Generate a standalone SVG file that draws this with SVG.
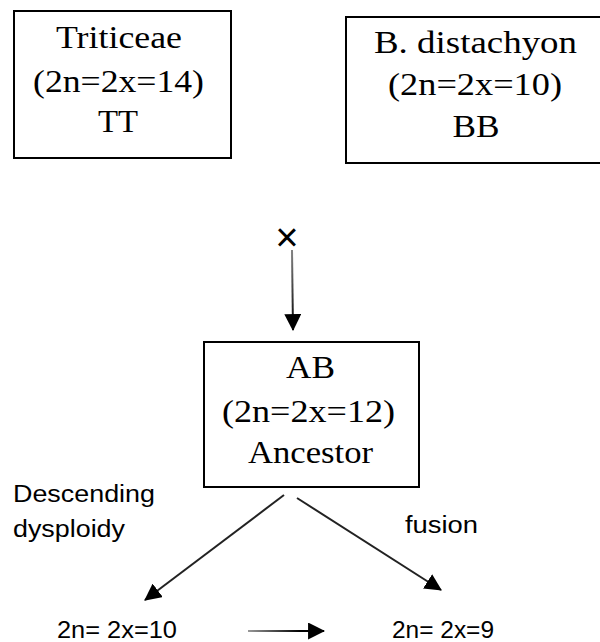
<svg xmlns="http://www.w3.org/2000/svg" width="600" height="642" viewBox="0 0 600 642">
<style>
.box{fill:#fff;stroke:#000;stroke-width:2}
.serif{font-family:"Liberation Serif","Times New Roman",serif;font-size:32px;fill:#000;text-anchor:middle}
.sans{font-family:"Liberation Sans",Arial,sans-serif;font-size:23px;fill:#000}
.conn{stroke:#222;stroke-width:2;fill:none;marker-end:url(#ah)}
</style>
<defs>
<marker id="ah" markerUnits="userSpaceOnUse" viewBox="0 0 16 16" refX="15" refY="8" markerWidth="17" markerHeight="17" orient="auto">
<path d="M0,0 L16,8 L0,16 z" fill="#000"/>
</marker>
<linearGradient id="hg" gradientUnits="userSpaceOnUse" x1="248" y1="0" x2="300" y2="0">
<stop offset="0" stop-color="#999"/>
<stop offset="1" stop-color="#000"/>
</linearGradient>
<linearGradient id="vg" gradientUnits="userSpaceOnUse" x1="0" y1="248" x2="0" y2="320">
<stop offset="0" stop-color="#888"/>
<stop offset="1" stop-color="#111"/>
</linearGradient>
</defs>
<rect width="600" height="642" fill="#fff"/>
<g id="triticeae">
<rect class="box" x="14" y="11" width="217" height="147"/>
<text class="serif" x="119" y="48" textLength="126" lengthAdjust="spacingAndGlyphs">Triticeae</text>
<text class="serif" x="118.5" y="92" textLength="171" lengthAdjust="spacingAndGlyphs">(2n=2x=14)</text>
<text class="serif" x="118" y="132" textLength="40" lengthAdjust="spacingAndGlyphs">TT</text>
</g>
<g id="bdistachyon">
<rect class="box" x="346" y="17" width="270" height="146"/>
<text class="serif" x="475.5" y="53" textLength="203" lengthAdjust="spacingAndGlyphs">B. distachyon</text>
<text class="serif" x="475" y="95" textLength="174" lengthAdjust="spacingAndGlyphs">(2n=2x=10)</text>
<text class="serif" x="476" y="137" textLength="47" lengthAdjust="spacingAndGlyphs">BB</text>
</g>
<g id="cross">
<text x="287" y="251" style="font-family:'Liberation Sans',Arial,sans-serif;font-size:40px;text-anchor:middle;fill:#000">×</text>
</g>
<g id="ancestor">
<rect class="box" x="204" y="342" width="215" height="145"/>
<text class="serif" x="310.5" y="378" textLength="49" lengthAdjust="spacingAndGlyphs">AB</text>
<text class="serif" x="308.5" y="422" textLength="173" lengthAdjust="spacingAndGlyphs">(2n=2x=12)</text>
<text class="serif" x="310.5" y="463" textLength="125" lengthAdjust="spacingAndGlyphs">Ancestor</text>
</g>
<g id="labels">
<text class="sans" x="13" y="502" textLength="142" lengthAdjust="spacingAndGlyphs">Descending</text>
<text class="sans" x="13" y="537" textLength="112" lengthAdjust="spacingAndGlyphs">dysploidy</text>
<text class="sans" x="405" y="533" textLength="73" lengthAdjust="spacingAndGlyphs">fusion</text>
</g>
<g id="n10">
<text class="sans" x="57" y="638" textLength="120" lengthAdjust="spacingAndGlyphs">2n= 2x=10</text>
</g>
<g id="n9">
<text class="sans" x="392" y="638" textLength="102" lengthAdjust="spacingAndGlyphs">2n= 2x=9</text>
</g>
<g id="connectors">
<line class="conn" x1="292" y1="250" x2="293" y2="330" style="stroke:url(#vg)"/>
<line class="conn" x1="284" y1="495" x2="145" y2="600"/>
<line class="conn" x1="297" y1="498" x2="441" y2="590"/>
<line class="conn" x1="248" y1="631" x2="324" y2="631" style="stroke:url(#hg)"/>
</g>
</svg>
